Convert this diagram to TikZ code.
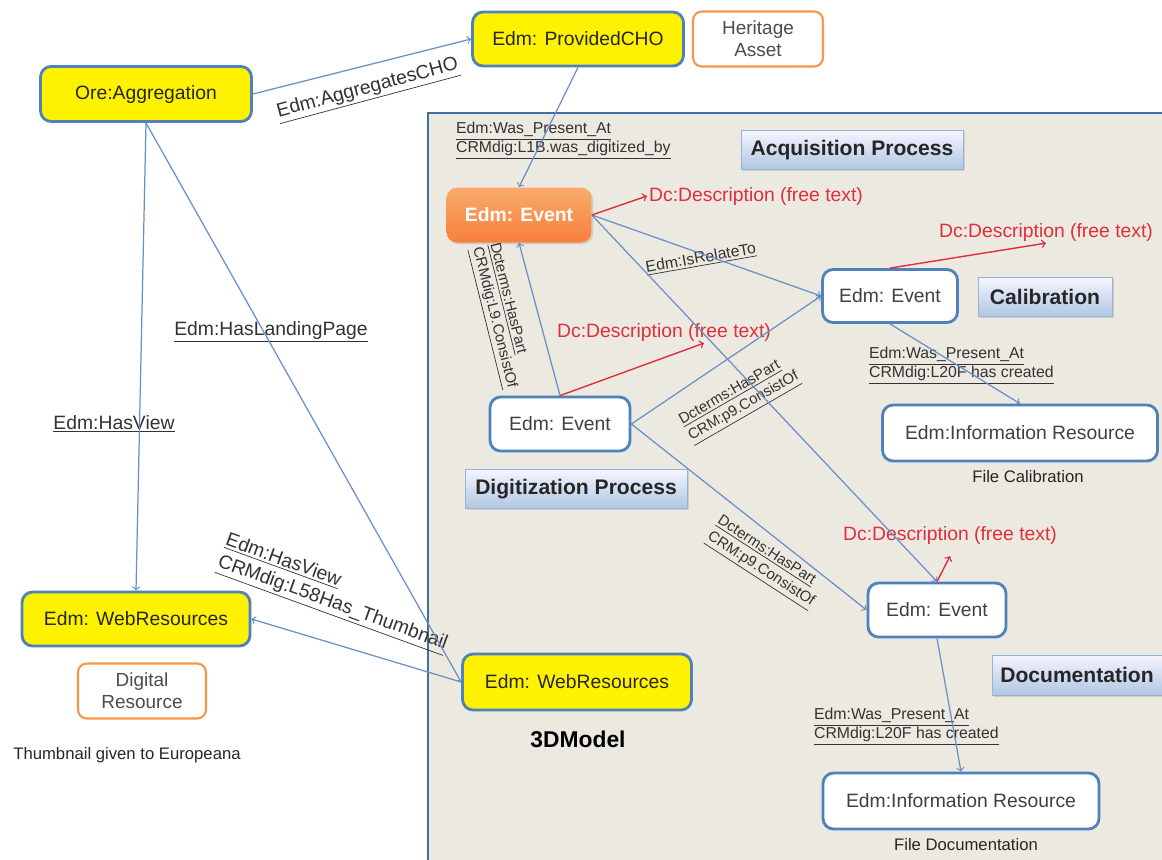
\documentclass[tikz,border=0pt]{standalone}
\usepackage{fontspec}
\setmainfont{Liberation Sans}
\usetikzlibrary{shadows,calc}

\definecolor{boxblue}{RGB}{79,129,189}
\definecolor{linkblue}{RGB}{104,143,200}
\definecolor{panelgray}{RGB}{236,233,224}
\definecolor{assetorange}{RGB}{247,150,70}
\definecolor{descred}{RGB}{225,45,60}

\tikzset{
  cls/.style={draw=boxblue, line width=1.6pt, rounded corners=6pt, fill=yellow, inner sep=0pt,
    font=\fontsize{11}{13}\selectfont, text=black!85},
  evt/.style={draw=boxblue, line width=1.6pt, rounded corners=6pt, fill=white, inner sep=0pt,
    font=\fontsize{11}{13}\selectfont, text=black!75},
  tag/.style={draw=assetorange, line width=1.2pt, rounded corners=5pt, fill=white, inner sep=0pt,
    align=center, font=\fontsize{10.8}{12.5}\selectfont, text=black!70},
  phase/.style={draw=boxblue!60, top color=blue!4, bottom color=boxblue!45, inner sep=0pt,
    font=\bfseries\fontsize{12}{14}\selectfont, text=black!85,
    drop shadow={opacity=0.25, shadow xshift=1pt, shadow yshift=-1pt}},
  rel/.style={font=\fontsize{9}{11}\selectfont, align=left, inner sep=1pt, text=black!80},
  link/.style={draw=linkblue, line width=0.7pt, ->},
  desc/.style={text=descred, font=\fontsize{11}{13}\selectfont, inner sep=1pt},
  descarrow/.style={draw=descred, line width=0.8pt, ->},
  note/.style={font=\fontsize{9.5}{11}\selectfont, text=black!85}
}

\begin{document}
\begin{tikzpicture}[x={(0.02cm,0)}, y={(0,-0.02cm)}]
  \useasboundingbox [fill=white] (0,0) rectangle (1162,859);
  % grey panel of the 3D model
  \draw [fill=panelgray, draw=boxblue!85!black, line width=1.6pt] (428,113) rectangle (1180,880);

  % classes
  \node [cls, minimum width=4.22cm, minimum height=1.1cm] (agg) at (146,94) {Ore:Aggregation};
  \node [cls, minimum width=4.22cm, minimum height=1.08cm] (cho) at (578,39) {Edm: ProvidedCHO};
  \node [tag, minimum width=2.6cm, minimum height=1.1cm] (heritage) at (758,39) {Heritage\\Asset};
  \node [cls, minimum width=4.56cm, minimum height=1.08cm] (webl) at (136,619) {Edm: WebResources};
  \node [tag, minimum width=2.56cm, minimum height=1.1cm] (digital) at (142,691) {Digital\\Resource};
  \node [note] (thumb) at (127,755) {Thumbnail given to Europeana};
  \node [cls, minimum width=4.58cm, minimum height=1.12cm] (web3d) at (577,682) {Edm: WebResources};
  \node [font=\bfseries\fontsize{13}{15}\selectfont] (model) at (578,739) {3DModel};

  % events
  \node [rounded corners=6pt, top color=assetorange!80!white, bottom color=assetorange!85!red,
    text=white, font=\bfseries\fontsize{11}{13}\selectfont, inner sep=0pt,
    minimum width=2.9cm, minimum height=1.1cm,
    drop shadow={opacity=0.25, shadow xshift=1pt, shadow yshift=-1pt}] (ev1) at (519,215) {Edm: Event};
  \node [evt, minimum width=2.7cm, minimum height=1.06cm] (ev2) at (890,296) {Edm: Event};
  \node [evt, minimum width=2.8cm, minimum height=1.08cm] (ev3) at (560,424) {Edm: Event};
  \node [evt, minimum width=2.76cm, minimum height=1.08cm] (ev4) at (937,610) {Edm: Event};
  \node [evt, minimum width=5.5cm, minimum height=1.12cm] (info1) at (1020,433) {Edm:Information Resource};
  \node [evt, minimum width=5.52cm, minimum height=1.12cm] (info2) at (961,801) {Edm:Information Resource};
  \node [note] (filecal) at (1028,477) {File Calibration};
  \node [note] (filedoc) at (966,845) {File Documentation};

  % process boxes
  \node [phase, minimum width=4.44cm, minimum height=0.78cm] (acq) at (852,150) {Acquisition Process};
  \node [phase, minimum width=2.68cm, minimum height=0.78cm] (calib) at (1045,297) {Calibration};
  \node [phase, minimum width=4.44cm, minimum height=0.78cm] (digit) at (576,489) {Digitization Process};
  \node [phase, minimum width=3.4cm, minimum height=0.8cm] (docu) at (1077,675) {Documentation};

  % descriptions
  \node [desc] (desc1) at (756,196) {Dc:Description (free text)};
  \node [desc] (desc2) at (1046,232) {Dc:Description (free text)};
  \node [desc] (desc3) at (664,332) {Dc:Description (free text)};
  \node [desc] (desc4) at (950,535) {Dc:Description (free text)};

  % relation labels
  \node [rel, rotate=15, font=\fontsize{11}{13}\selectfont] (raggr) at (368,90) {\underline{Edm:AggregatesCHO}};
  \node [rel, anchor=north west] (rwas1) at (454,120) {\underline{Edm:Was\_Present\_At}\\\underline{CRMdig:L1B.was\_digitized\_by}};
  \node [rel, rotate=10] (rrel) at (701,259) {\underline{Edm:IsRelateTo}};
  \node [rel, rotate=-76, font=\fontsize{8.5}{10}\selectfont] (rpart1) at (501,316) {\underline{Dcterms:HasPart}\\\underline{CRMdig:L9.ConsistOf}};
  \node [rel, rotate=30, font=\fontsize{8.5}{10.5}\selectfont] (rpart2) at (740,400) {\underline{Dcterms:HasPart}\\\underline{CRM:p9.ConsistOf}};
  \node [rel, rotate=-33, font=\fontsize{8.5}{10.5}\selectfont] (rpart3) at (765,563) {\underline{Dcterms:HasPart}\\\underline{CRM:p9.ConsistOf}};
  \node [rel, anchor=north west] (rwas2) at (867,345) {\underline{Edm:Was\_Present\_At}\\\underline{CRMdig:L20F has created}};
  \node [rel, anchor=north west] (rwas3) at (812,706) {\underline{Edm:Was\_Present\_At}\\\underline{CRMdig:L20F has created}};
  \node [rel, font=\fontsize{11}{13}\selectfont] (rland) at (271,332) {\underline{Edm:HasLandingPage}};
  \node [rel, font=\fontsize{11}{13}\selectfont] (rview) at (114,424) {\underline{Edm:HasView}};
  \node [rel, rotate=-20, font=\fontsize{11}{13}\selectfont] (rthumb) at (336,594) {\underline{Edm:HasView}\\\underline{CRMdig:L58Has\_Thumbnail}};

  % links
  \draw [link] (agg.east) -- (cho.west);
  \draw [link] (cho.south) -- (ev1.north);
  \draw [link] (agg.south) -- (webl.north);
  \draw [link] (agg.south) -- (web3d.west);
  \draw [link] (web3d.west) -- (webl.east);
  \draw [link] (ev1.east) -- (ev2.west);
  \draw [link] (ev1.east) -- (ev4.north);
  \draw [link] (ev3.north) -- (ev1.south);
  \draw [link] (ev3.east) -- (ev2.west);
  \draw [link] (ev3.east) -- (ev4.west);
  \draw [link] (ev2.south) -- (info1.north);
  \draw [link] (ev4.south) -- (info2.north);

  % descriptions
  \draw [descarrow] (ev1.east) -- (desc1.west);
  \draw [descarrow] (ev2.north) -- (desc2.south);
  \draw [descarrow] (ev3.north) -- ([xshift=0.8cm]desc3.south);
  \draw [descarrow] (ev4.north) -- ([yshift=-0.2cm]desc4.south);
\end{tikzpicture}
\end{document}
